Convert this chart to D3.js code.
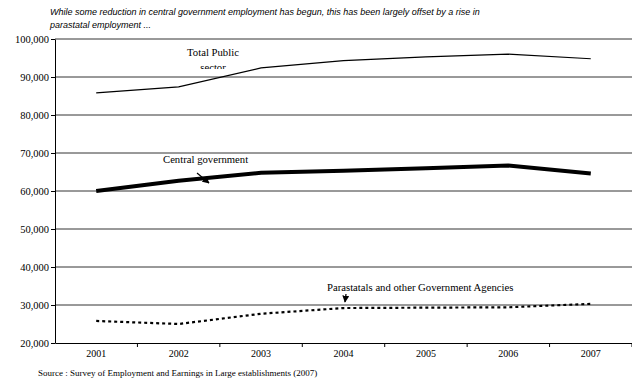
<!DOCTYPE html>
<html>
<head>
<meta charset="utf-8">
<script src="https://cdn.jsdelivr.net/npm/d3@7"></script>
<style>
  html, body { margin: 0; padding: 0; background: #fff; }
  svg { display: block; }
</style>
</head>
<body>
<svg id="chart" width="632" height="378"></svg>
<script>
// Public sector employment, 2001-2007
const years = ["2001", "2002", "2003", "2004", "2005", "2006", "2007"];
const totalPublic = [85800, 87400, 92400, 94300, 95300, 96000, 94800];
const centralGov = [60000, 62700, 64800, 65300, 66000, 66700, 64600];
const parastatals = [25800, 25000, 27700, 29200, 29300, 29400, 30300];
const yTicks = [20000, 30000, 40000, 50000, 60000, 70000, 80000, 90000, 100000];

const svg = d3.select("#chart");
const plotLeft = 55, plotRight = 632, plotTop = 39, plotBottom = 343;

const x = d3.scaleBand().domain(years).range([plotLeft, plotRight]);
const y = d3.scaleLinear().domain([20000, 100000]).range([plotBottom, plotTop]);
const fmt = d3.format(",");
const serif = "'Liberation Serif', 'Times New Roman', serif";

// Headline
const title = svg.append("text")
  .attr("font-family", "Arial, 'Liberation Sans', sans-serif")
  .attr("font-style", "italic")
  .attr("font-size", 9)
  .attr("fill", "#000");
title.append("tspan").attr("x", 50).attr("y", 15)
  .text("While some reduction in central government employment has begun, this has been largely offset by a rise in");
title.append("tspan").attr("x", 50).attr("y", 28)
  .text("parastatal employment ...");

// Horizontal gridlines
svg.append("g").selectAll("line")
  .data(yTicks.filter(d => d > 20000))
  .join("line")
  .attr("x1", plotLeft).attr("x2", plotRight)
  .attr("y1", d => y(d)).attr("y2", d => y(d))
  .attr("stroke", "#000").attr("stroke-width", 0.8);

// Y axis
const yAxis = svg.append("g")
  .attr("transform", `translate(${plotLeft},0)`)
  .call(d3.axisLeft(y).tickValues(yTicks).tickFormat(fmt).tickSize(4).tickSizeOuter(0));
yAxis.select(".domain").attr("stroke", "#000").attr("stroke-width", 1);
yAxis.selectAll(".tick line").attr("stroke", "#000");
yAxis.selectAll(".tick text")
  .attr("font-family", serif)
  .attr("font-size", 10.5).attr("fill", "#000").attr("x", -6);

// X axis
const xAxis = svg.append("g")
  .attr("transform", `translate(0,${plotBottom})`)
  .call(d3.axisBottom(x).tickSize(0));
xAxis.select(".domain").attr("stroke", "#000").attr("stroke-width", 1.2);
xAxis.selectAll(".tick text")
  .attr("font-family", serif)
  .attr("font-size", 10).attr("fill", "#000").attr("dy", "1.1em");
// category boundary ticks
svg.append("g").selectAll("line")
  .data(years.map((d, i) => plotLeft + x.step() * (i + 1)))
  .join("line")
  .attr("x1", d => d).attr("x2", d => d)
  .attr("y1", plotBottom).attr("y2", plotBottom + 4)
  .attr("stroke", "#000");

const cx = d => x(d) + x.bandwidth() / 2;
const line = d3.line().x((d, i) => cx(years[i])).y(d => y(d));

svg.append("path").datum(totalPublic).attr("d", line)
  .attr("fill", "none").attr("stroke", "#000").attr("stroke-width", 1.2);
svg.append("path").datum(centralGov).attr("d", line)
  .attr("fill", "none").attr("stroke", "#000").attr("stroke-width", 4);
svg.append("path").datum(parastatals).attr("d", line)
  .attr("fill", "none").attr("stroke", "#000").attr("stroke-width", 2.2)
  .attr("stroke-dasharray", "3,3");

// Series callouts
const defs = svg.append("defs");
defs.append("clipPath").attr("id", "lblclip")
  .append("rect").attr("x", 150).attr("y", 40).attr("width", 120).attr("height", 29);
const tp = svg.append("text").attr("font-family", serif).attr("font-size", 10.7)
  .attr("text-anchor", "middle").attr("clip-path", "url(#lblclip)");
tp.append("tspan").attr("x", 213).attr("y", 56).text("Total Public");
tp.append("tspan").attr("x", 213).attr("y", 71).text("sector");

svg.append("text").attr("font-family", serif).attr("font-size", 10.7)
  .attr("x", 163).attr("y", 163).text("Central government");
svg.append("text").attr("font-family", serif).attr("font-size", 10.7)
  .attr("x", 327).attr("y", 291).text("Parastatals and other Government Agencies");

defs.append("marker").attr("id", "arrow").attr("viewBox", "0 0 10 10")
  .attr("refX", 9).attr("refY", 5).attr("markerWidth", 7).attr("markerHeight", 7)
  .attr("orient", "auto").attr("markerUnits", "userSpaceOnUse")
  .append("path").attr("d", "M0,0 L10,5 L0,10 z").attr("fill", "#000");

svg.append("line").attr("x1", 197).attr("y1", 173).attr("x2", 209).attr("y2", 183)
  .attr("stroke", "#000").attr("stroke-width", 1.2).attr("marker-end", "url(#arrow)");
svg.append("line").attr("x1", 346).attr("y1", 294).attr("x2", 345).attr("y2", 302)
  .attr("stroke", "#000").attr("stroke-width", 1.2).attr("marker-end", "url(#arrow)");

// Source note
svg.append("text").attr("font-family", serif).attr("font-size", 9)
  .attr("x", 38).attr("y", 376)
  .text("Source : Survey of Employment and Earnings in Large establishments (2007)");
</script>
</body>
</html>
